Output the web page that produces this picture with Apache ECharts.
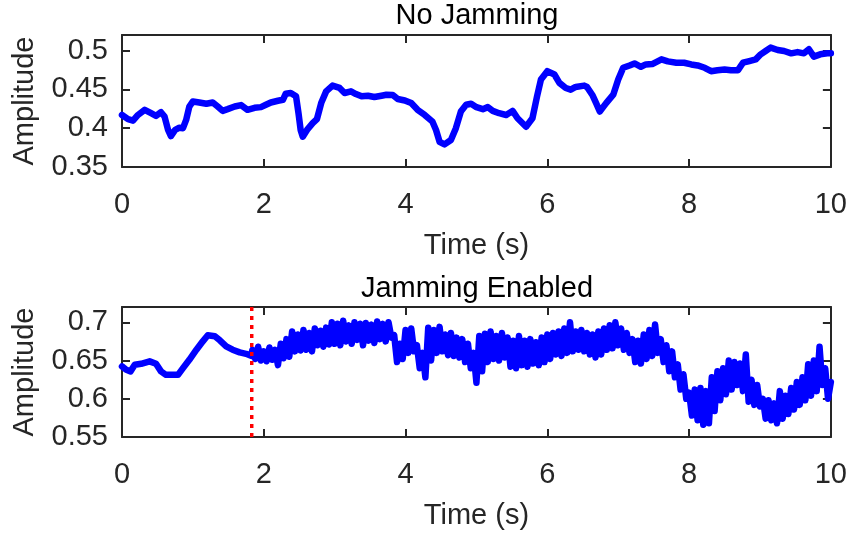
<!DOCTYPE html>
<html><head><meta charset="utf-8">
<script src="https://cdn.jsdelivr.net/npm/echarts@6/dist/echarts.min.js"></script>
<style>html,body{margin:0;padding:0;background:#fff}#c{width:850px;height:535px}</style>
</head><body><div id="c"></div>
<script>
const xTicks = [0, 2, 4, 6, 8, 10];
const topYTicks = [0.35, 0.4, 0.45, 0.5];
const botYTicks = [0.55, 0.6, 0.65, 0.7];
const titles = ['No Jamming', 'Jamming Enabled'];

const tNoJam = [0,0.085,0.155,0.225,0.32,0.41,0.48,0.55,0.60,0.65,0.69,0.75,0.81,0.86,0.905,0.95,1.0,1.09,1.19,1.28,1.35,1.42,1.49,1.59,1.68,1.77,1.87,1.96,2.03,2.10,2.20,2.27,2.31,2.38,2.455,2.49,2.52,2.55,2.61,2.69,2.75,2.81,2.88,2.97,3.07,3.14,3.23,3.30,3.38,3.47,3.56,3.66,3.73,3.82,3.89,3.99,4.08,4.17,4.27,4.38,4.43,4.48,4.55,4.64,4.71,4.78,4.855,4.925,5.0,5.09,5.16,5.23,5.32,5.42,5.51,5.58,5.70,5.79,5.855,5.91,6.0,6.10,6.17,6.26,6.33,6.40,6.52,6.56,6.64,6.69,6.74,6.83,6.93,7.0,7.07,7.16,7.23,7.32,7.39,7.48,7.61,7.70,7.82,7.93,8.03,8.12,8.22,8.31,8.40,8.50,8.59,8.69,8.76,8.85,8.94,9.01,9.08,9.15,9.25,9.34,9.44,9.53,9.62,9.69,9.76,9.85,9.95,10];
const ampNoJam = [0.417,0.4116,0.4097,0.417,0.4236,0.4193,0.4158,0.4206,0.415,0.3977,0.3899,0.3977,0.4006,0.400,0.4106,0.4279,0.4344,0.4331,0.4314,0.4331,0.4279,0.4223,0.4245,0.4279,0.4297,0.4236,0.4262,0.4271,0.4301,0.4331,0.4353,0.4366,0.4444,0.4453,0.441,0.4193,0.3977,0.389,0.3977,0.4064,0.4116,0.4323,0.4474,0.4548,0.4518,0.4453,0.4474,0.444,0.441,0.4418,0.4401,0.4418,0.4431,0.4427,0.4375,0.4357,0.4323,0.4236,0.417,0.4084,0.3977,0.3825,0.3791,0.3847,0.400,0.4214,0.4301,0.4314,0.4271,0.4245,0.4271,0.4223,0.4193,0.417,0.4223,0.4128,0.4019,0.4128,0.441,0.4626,0.4734,0.4691,0.4583,0.4518,0.4496,0.4531,0.4548,0.4530,0.442,0.432,0.4214,0.4323,0.4431,0.4626,0.4778,0.4808,0.4834,0.4791,0.4821,0.4826,0.4886,0.486,0.4843,0.4843,0.4821,0.4808,0.4778,0.4734,0.4747,0.4756,0.4747,0.4747,0.4843,0.4864,0.4886,0.4951,0.4994,0.5038,0.5007,0.4994,0.4964,0.498,0.4964,0.5016,0.4921,0.4951,0.4964,0.4964];

const tPre = [0,0.06,0.12,0.18,0.27,0.39,0.48,0.55,0.62,0.72,0.79,0.86,0.95,1.05,1.14,1.21,1.31,1.38,1.47,1.56,1.66,1.75,1.82];
const ampPre = [0.6423,0.6379,0.6358,0.6444,0.6457,0.6489,0.6457,0.6358,0.6313,0.6313,0.6313,0.6401,0.651,0.6641,0.6751,0.683,0.6817,0.6764,0.6685,0.6641,0.6607,0.6588,0.6562];

const jamStart = 1.84;
const jamStep = 0.04;
const ampJam = [
0.664,0.652, 0.668,0.650, 0.662,0.649, 0.667,0.651, 0.664,0.644, 0.672,0.653, 0.678,0.655, 0.688,0.662,
0.684,0.663, 0.690,0.664, 0.686,0.662, 0.692,0.670, 0.689,0.668, 0.693,0.671, 0.700,0.672, 0.698,0.670,
0.702,0.675, 0.696,0.672, 0.700,0.677, 0.698,0.670, 0.699,0.676, 0.697,0.673, 0.701,0.678, 0.698,0.675,
0.700,0.680, 0.683,0.648, 0.672,0.652, 0.690,0.660, 0.692,0.662, 0.670,0.640, 0.660,0.628, 0.693,0.650,
0.690,0.660, 0.694,0.662, 0.684,0.657, 0.686,0.656, 0.680,0.654, 0.678,0.648, 0.672,0.640, 0.660,0.621,
0.682,0.636, 0.685,0.648, 0.688,0.652, 0.682,0.650, 0.686,0.654, 0.680,0.642, 0.676,0.640, 0.682,0.644,
0.676,0.642, 0.678,0.646, 0.674,0.644, 0.680,0.648, 0.684,0.652, 0.686,0.658, 0.688,0.656, 0.692,0.660,
0.700,0.662, 0.688,0.664, 0.690,0.662, 0.686,0.658, 0.684,0.654, 0.688,0.658, 0.692,0.664, 0.696,0.666,
0.700,0.670, 0.692,0.664, 0.686,0.660, 0.678,0.648, 0.676,0.646, 0.684,0.652, 0.690,0.656, 0.697,0.660,
0.678,0.648, 0.670,0.636, 0.662,0.628, 0.645,0.612, 0.632,0.600, 0.608,0.578, 0.612,0.572, 0.614,0.566,
0.610,0.568, 0.628,0.584, 0.636,0.598, 0.640,0.606, 0.650,0.612, 0.648,0.618, 0.646,0.610, 0.658,0.596,
0.625,0.592, 0.618,0.590, 0.600,0.574, 0.598,0.572, 0.594,0.568, 0.610,0.574, 0.604,0.580, 0.614,0.586,
0.622,0.592, 0.628,0.598, 0.645,0.604, 0.650,0.610, 0.668,0.618, 0.640,0.600, 0.622
];
const jamMarkerTime = 1.83;

const FONT = "'Liberation Sans', Arial, Helvetica, sans-serif";
const AX = '#262626';
const FS = 29;

const noJamData = tNoJam.map((t, i) => [t, ampNoJam[i]]);
const jamData = tPre.map((t, i) => [t, ampPre[i]])
  .concat(ampJam.map((v, i) => [+(jamStart + i * jamStep).toFixed(3), v]));

function xAxes(gi) {
  const base = {
    type: 'value', gridIndex: gi, min: 0, max: 10,
    axisLine: { show: true, onZero: false, lineStyle: { color: AX, width: 2 } },
    axisTick: { show: true, inside: true, length: 8, customValues: xTicks, lineStyle: { color: AX, width: 2 } },
    splitLine: { show: false }
  };
  return [
    Object.assign({}, base, {
      position: 'bottom',
      axisLabel: { show: true, customValues: xTicks, margin: 23, color: AX, fontSize: FS, fontFamily: FONT },
      name: 'Time (s)', nameLocation: 'middle', nameGap: 64,
      nameTextStyle: { color: AX, fontSize: FS, fontFamily: FONT }
    }),
    Object.assign({}, base, { position: 'top', axisLabel: { show: false } })
  ];
}
function yAxes(gi, ymin, ymax, ticks) {
  const base = {
    type: 'value', gridIndex: gi, min: ymin, max: ymax,
    axisLine: { show: true, onZero: false, lineStyle: { color: AX, width: 2 } },
    axisTick: { show: true, inside: true, length: 8, customValues: ticks, lineStyle: { color: AX, width: 2 } },
    splitLine: { show: false }
  };
  return [
    Object.assign({}, base, {
      position: 'left',
      axisLabel: { show: true, customValues: ticks, margin: 14, color: AX, fontSize: FS, fontFamily: FONT,
        formatter: v => String(+v.toFixed(2)) },
      name: 'Amplitude', nameLocation: 'middle', nameGap: 83, nameRotate: 90,
      nameTextStyle: { color: AX, fontSize: FS, fontFamily: FONT }
    }),
    Object.assign({}, base, { position: 'right', axisLabel: { show: false } })
  ];
}

const chart = echarts.init(document.getElementById('c'), null, { renderer: 'canvas' });
chart.setOption({
  animation: false,
  backgroundColor: '#ffffff',
  grid: [
    { left: 122, top: 35, width: 710, height: 132, containLabel: false },
    { left: 122, top: 307, width: 710, height: 130, containLabel: false }
  ],
  xAxis: xAxes(0).concat(xAxes(1)),
  yAxis: yAxes(0, 0.35, 0.52, topYTicks).concat(yAxes(1, 0.55, 0.72, botYTicks)),
  graphic: [
    { type: 'text', x: 477, y: 1, style: { text: titles[0], fill: '#000', font: FS + 'px ' + FONT, textAlign: 'center', textVerticalAlign: 'top' } },
    { type: 'text', x: 477, y: 274, style: { text: titles[1], fill: '#000', font: FS + 'px ' + FONT, textAlign: 'center', textVerticalAlign: 'top' } }
  ],
  series: [
    { type: 'line', xAxisIndex: 0, yAxisIndex: 0, data: noJamData, showSymbol: false, symbol: 'none',
      lineStyle: { color: '#0000ff', width: 6.5, join: 'round', cap: 'round' }, z: 2 },
    { type: 'line', xAxisIndex: 2, yAxisIndex: 2, data: jamData, showSymbol: false, symbol: 'none',
      lineStyle: { color: '#0000ff', width: 6.5, join: 'round', cap: 'round' }, z: 2 },
    { type: 'line', xAxisIndex: 2, yAxisIndex: 2, data: [[jamMarkerTime, 0.55], [jamMarkerTime, 0.72]],
      showSymbol: false, symbol: 'none',
      lineStyle: { color: '#ff0000', width: 3.5, type: [4, 5], cap: 'butt' }, z: 3 }
  ]
});
</script>
</body></html>
